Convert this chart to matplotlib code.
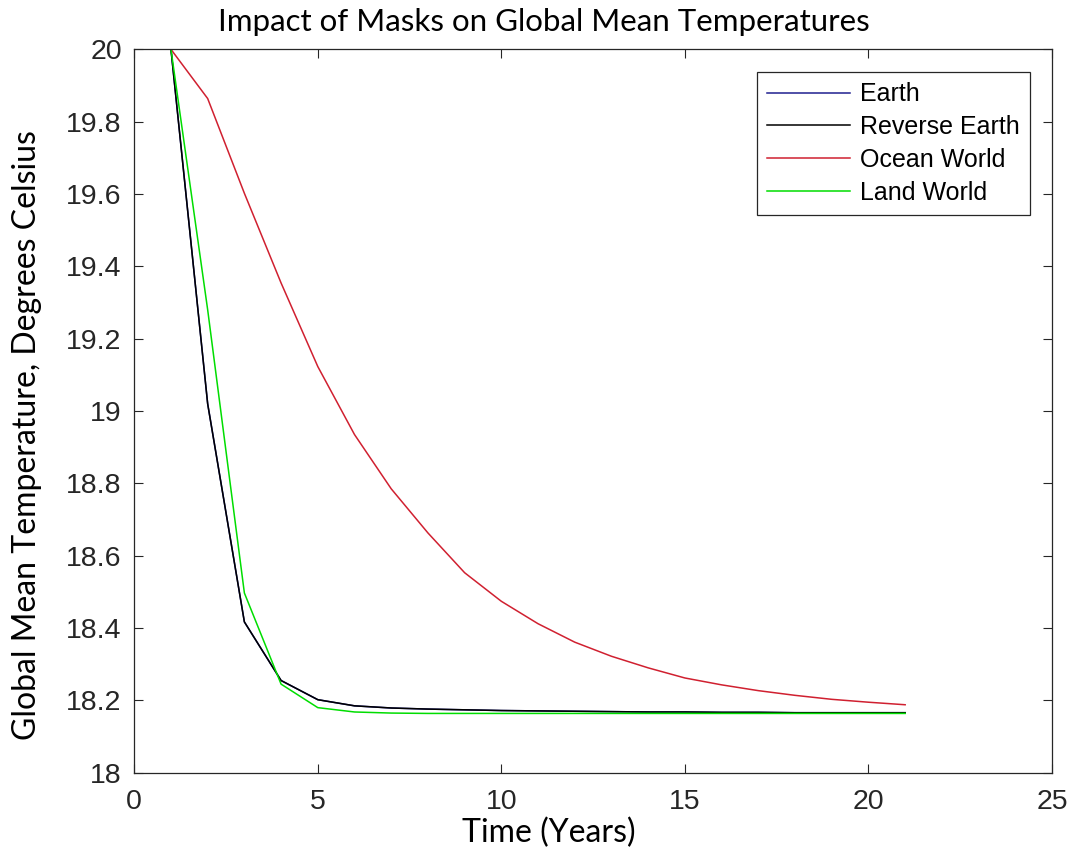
import matplotlib
matplotlib.use("Agg")
import matplotlib.pyplot as plt

# === Data ===
years = [1, 2, 3, 4, 5, 6, 7, 8, 9, 10, 11, 12, 13, 14, 15, 16, 17, 18, 19, 20, 21]

earth = [20.0, 19.02, 18.417, 18.255, 18.202, 18.185, 18.179, 18.176, 18.174, 18.172,
         18.171, 18.170, 18.169, 18.168, 18.168, 18.167, 18.167, 18.166, 18.166, 18.166, 18.166]
reverse_earth = [20.0, 19.02, 18.417, 18.255, 18.202, 18.185, 18.179, 18.176, 18.174, 18.172,
                 18.171, 18.170, 18.169, 18.168, 18.168, 18.167, 18.167, 18.166, 18.166, 18.166, 18.166]
ocean_world = [20.0, 19.864, 19.602, 19.354, 19.123, 18.935, 18.785, 18.663, 18.553, 18.474,
               18.412, 18.361, 18.322, 18.290, 18.262, 18.243, 18.227, 18.214, 18.203, 18.195, 18.188]
land_world = [20.0, 19.28, 18.497, 18.245, 18.180, 18.168, 18.165, 18.164, 18.164, 18.164,
              18.164, 18.164, 18.164, 18.164, 18.164, 18.164, 18.164, 18.164, 18.164, 18.164, 18.164]

series_labels = ["Earth", "Reverse Earth", "Ocean World", "Land World"]
series_colors = ["#1f1f8f", "black", "#d02030", "#00dd00"]

x_ticks = [0, 5, 10, 15, 20, 25]
y_ticks = [18, 18.2, 18.4, 18.6, 18.8, 19, 19.2, 19.4, 19.6, 19.8, 20]
y_tick_labels = ["18", "18.2", "18.4", "18.6", "18.8", "19", "19.2", "19.4", "19.6", "19.8", "20"]

# === Plot ===
fig = plt.figure(figsize=(10.74, 8.61), dpi=100)
ax = fig.add_axes([0.125, 0.1025, 0.8545, 0.8402])

for vals, lab, col in zip([earth, reverse_earth, ocean_world, land_world], series_labels, series_colors):
    ax.plot(years, vals, color=col, lw=1.1, label=lab)

ax.set_xlim(0, 25)
ax.set_ylim(18, 20)
ax.set_xticks(x_ticks)
ax.set_yticks(y_ticks)
ax.set_yticklabels(y_tick_labels)

for lbl in ax.get_xticklabels() + ax.get_yticklabels():
    lbl.set_fontfamily("Liberation Sans")
    lbl.set_fontsize(20.5)
    lbl.set_color("#262626")

ax.tick_params(direction="in", length=6.5, width=0.8, color="#262626", top=True, right=True)
ax.tick_params(axis="y", pad=9)
ax.tick_params(axis="x", pad=12)
for sp in ax.spines.values():
    sp.set_color("#262626")
    sp.set_linewidth(0.9)

# title and labels sit a bit left of / below the axes centre in the original
fig.text(544 / 1074, 1 - 22 / 861, "Impact of Masks on Global Mean Temperatures",
         family="Lato", fontsize=22.5, ha="center", va="center")
ax.set_xlabel("Time (Years)", family="Lato", fontsize=23)
ax.xaxis.set_label_coords(0.452, -0.062)
ax.set_ylabel("Global Mean Temperature, Degrees Celsius", family="Lato", fontsize=23)
ax.yaxis.set_label_coords(-0.100, 0.467)

leg = ax.legend(loc="upper right", bbox_to_anchor=(0.976, 0.969), borderaxespad=0,
                prop={"family": "Liberation Sans", "size": 18}, fancybox=False,
                edgecolor="#262626", framealpha=1, handlelength=3.3, handletextpad=0.4,
                labelspacing=0.35, borderpad=0.42)
leg.get_frame().set_linewidth(0.9)

plt.savefig("out.png", dpi=100)
